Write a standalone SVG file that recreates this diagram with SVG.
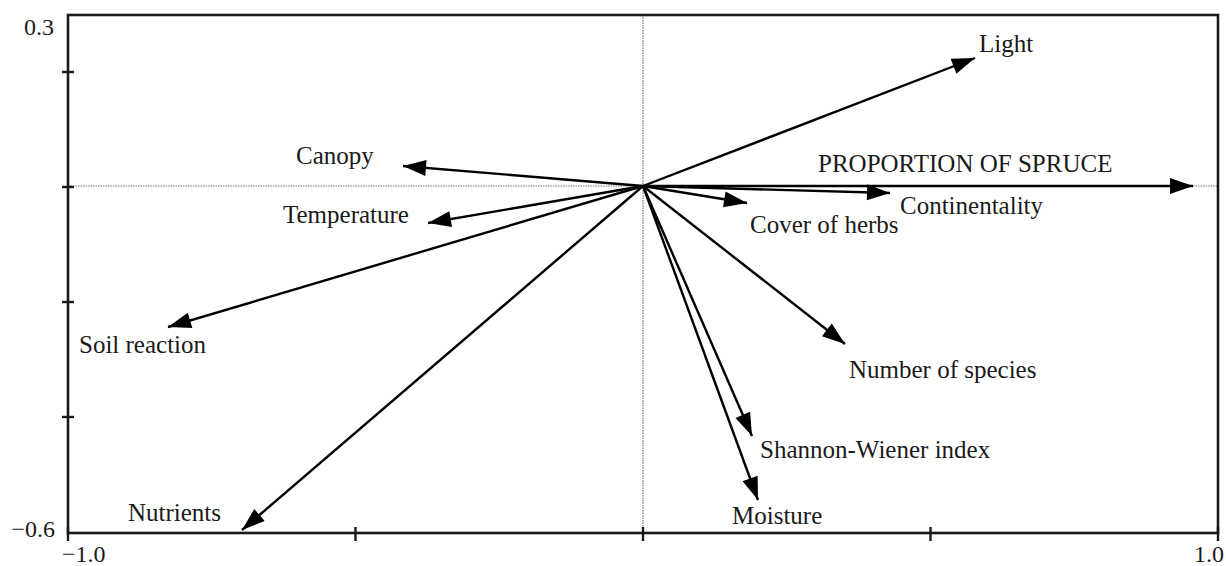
<svg xmlns="http://www.w3.org/2000/svg" width="1226" height="566" viewBox="0 0 1226 566">
<style>
text{font-family:"Liberation Serif","DejaVu Serif",serif;fill:#1a1a1a}
.lbl{font-size:25px}
.ax{font-size:24px}
.frame{fill:none;stroke:#1a1a1a;stroke-width:2.6}
.tick{stroke:#1a1a1a;stroke-width:2.4}
.dot{stroke:#777;stroke-width:1.2;stroke-dasharray:1.5 1}
.vec{stroke:#000;stroke-width:2.4;fill:none}
</style>
<defs>
<marker id="ah" markerUnits="userSpaceOnUse" markerWidth="30" markerHeight="20" refX="24" refY="8" orient="auto" viewBox="0 0 30 20">
<path d="M24,8 L1,0 L1,16 Z" fill="#000"/>
</marker>
</defs>
<rect width="1226" height="566" fill="#fff"/>
<g id="axes">
<line class="dot" x1="68" y1="186" x2="1218" y2="186"/>
<line class="dot" x1="643" y1="15" x2="643" y2="533"/>
<rect class="frame" x="68" y="15" width="1150" height="518"/>
<line class="tick" x1="62" y1="72" x2="74" y2="72"/>
<line class="tick" x1="62" y1="187" x2="74" y2="187"/>
<line class="tick" x1="62" y1="302" x2="74" y2="302"/>
<line class="tick" x1="62" y1="417" x2="74" y2="417"/>
<line class="tick" x1="68" y1="527" x2="68" y2="541"/>
<line class="tick" x1="355.5" y1="527" x2="355.5" y2="541"/>
<line class="tick" x1="643" y1="527" x2="643" y2="541"/>
<line class="tick" x1="930.5" y1="527" x2="930.5" y2="541"/>
<line class="tick" x1="1218" y1="527" x2="1218" y2="541"/>
<text class="ax" x="54" y="35" text-anchor="end">0.3</text>
<text class="ax" x="55" y="537" text-anchor="end">−0.6</text>
<text class="ax" x="62" y="562">−1.0</text>
<text class="ax" x="1224" y="562" text-anchor="end">1.0</text>
</g>
<g id="connectors">
<line class="vec" x1="643" y1="186" x2="975" y2="58" marker-end="url(#ah)"/>
<line class="vec" x1="643" y1="186" x2="403" y2="166" marker-end="url(#ah)"/>
<line class="vec" x1="643" y1="186" x2="1193" y2="186" marker-end="url(#ah)"/>
<line class="vec" x1="643" y1="186" x2="890" y2="193" marker-end="url(#ah)"/>
<line class="vec" x1="643" y1="186" x2="747" y2="203" marker-end="url(#ah)"/>
<line class="vec" x1="643" y1="186" x2="428" y2="223" marker-end="url(#ah)"/>
<line class="vec" x1="643" y1="186" x2="168" y2="327" marker-end="url(#ah)"/>
<line class="vec" x1="643" y1="186" x2="242" y2="530" marker-end="url(#ah)"/>
<line class="vec" x1="643" y1="186" x2="845" y2="344" marker-end="url(#ah)"/>
<line class="vec" x1="643" y1="186" x2="752" y2="436" marker-end="url(#ah)"/>
<line class="vec" x1="643" y1="186" x2="758" y2="500" marker-end="url(#ah)"/>
</g>
<g id="light"><text class="lbl" x="979" y="52">Light</text></g>
<g id="spruce"><text class="lbl" x="818" y="172">PROPORTION OF SPRUCE</text></g>
<g id="canopy"><text class="lbl" x="296" y="164">Canopy</text></g>
<g id="temperature"><text class="lbl" x="283" y="223">Temperature</text></g>
<g id="cover-herbs"><text class="lbl" x="750" y="233">Cover of herbs</text></g>
<g id="continentality"><text class="lbl" x="900" y="214">Continentality</text></g>
<g id="soil-reaction"><text class="lbl" x="79" y="353">Soil reaction</text></g>
<g id="species"><text class="lbl" x="849" y="378">Number of species</text></g>
<g id="shannon"><text class="lbl" x="760" y="458">Shannon-Wiener index</text></g>
<g id="moisture"><text class="lbl" x="732" y="524">Moisture</text></g>
<g id="nutrients"><text class="lbl" x="128" y="521">Nutrients</text></g>
</svg>
